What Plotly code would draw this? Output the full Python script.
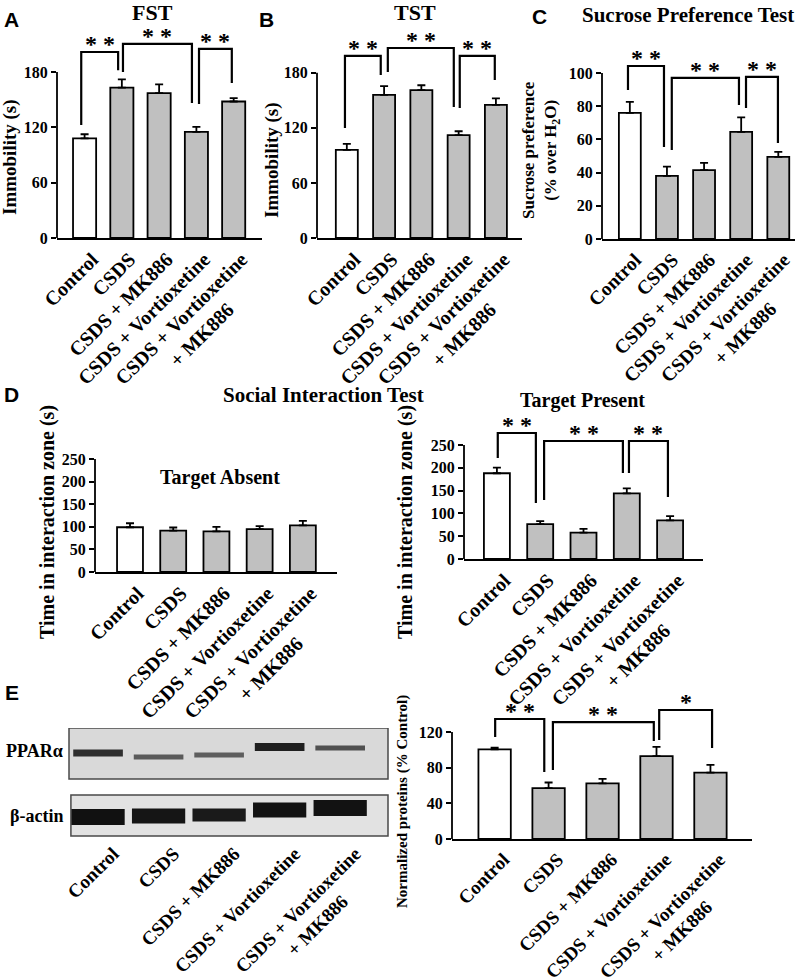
import plotly.graph_objects as go

W, H = 809, 978

# ---------------- data ----------------
categories = ["Control", "CSDS", "CSDS + MK886", "CSDS + Vortioxetine",
              "CSDS + Vortioxetine<br>+ MK886"]

fst_mean = [108, 163, 157, 115, 148]
fst_sem = [4.5, 9.0, 9.5, 5.5, 3.7]

tst_mean = [96, 156, 161, 112, 145]
tst_sem = [6.5, 9.4, 5.4, 4.3, 7.0]

spt_mean = [76, 38, 41.5, 64.5, 49.5]
spt_sem = [6.6, 5.6, 4.4, 8.8, 3.0]

absent_mean = [99, 91.5, 90, 95, 103]
absent_sem = [8.8, 7.0, 10.0, 6.6, 10.0]

present_mean = [188, 76.5, 58, 144, 84.5]
present_sem = [12.5, 6.5, 8.0, 11.0, 9.4]

ppar_mean = [100.5, 57, 62.5, 93, 74.5]
ppar_sem = [2.0, 6.4, 4.9, 10.4, 8.6]

# western blot band appearance
ppar_band_y = [83, 79, 81, 89, 88]
ppar_band_h = [7, 5, 5, 8, 5]
ppar_band_shade = ["#2e2e2e", "#5a5a5a", "#5e5e5e", "#1f1f1f", "#505050"]
actin_band_y = [19, 20, 21, 26, 28]
actin_band_h = [16, 15, 13, 15, 16]
actin_band_shade = ["#111111", "#151515", "#1a1a1a", "#121212", "#121212"]

SERIF = "Liberation Serif"
SANS = "Liberation Sans"
fills = ["white", "#c0c0c0", "#c0c0c0", "#c0c0c0", "#c0c0c0"]
idx = list(range(len(categories)))
ticktext = [c if "<br>" not in c else c.replace("<br>+ MK886", "<br>+ MK886" + "\u00a0" * 9)
            for c in categories]


def px_x(p):
    return p / W


def px_y(p):
    return 1 - p / H


fig = go.Figure()
layout = dict(width=W, height=H, margin=dict(l=0, r=0, t=0, b=0, autoexpand=False),
              paper_bgcolor="white", plot_bgcolor="white", showlegend=False,
              barmode="overlay", font=dict(family=SERIF, color="black"), template="none")
shapes = []
annotations = []

panels = [
    dict(n=1, mean=fst_mean, sem=fst_sem, xd=(57, 262), yb=238, yt=40, ymax=214.7,
         ticks=[0, 60, 120, 180], ytop=180, xr=(-0.74, 4.76), bw=0.62, lab_shift=0.21, fs=20),
    dict(n=2, mean=tst_mean, sem=tst_sem, xd=(317, 522), yb=238, yt=40, ymax=215.7,
         ticks=[0, 60, 120, 180], ytop=180, xr=(-0.8, 4.7), bw=0.59, lab_shift=0.21, fs=20),
    dict(n=3, mean=spt_mean, sem=spt_sem, xd=(602, 795), yb=239, yt=60, ymax=107.8,
         ticks=[0, 20, 40, 60, 80, 100], ytop=100, xr=(-0.75, 4.45), bw=0.59, lab_shift=0.15, fs=19.5),
    dict(n=4, mean=absent_mean, sem=absent_sem, xd=(95, 337), yb=572, yt=459, ymax=250,
         ticks=[0, 50, 100, 150, 200, 250], ytop=250, xr=(-0.81, 4.79), bw=0.6, lab_shift=0.18, fs=20),
    dict(n=5, mean=present_mean, sem=present_sem, xd=(464, 703), yb=559, yt=430, ymax=282.9,
         ticks=[0, 50, 100, 150, 200, 250], ytop=250, xr=(-0.76, 4.76), bw=0.6, lab_shift=0.18, fs=20),
    dict(n=7, mean=ppar_mean, sem=ppar_sem, xd=(452, 752), yb=839, yt=705, ymax=150.3,
         ticks=[0, 40, 80, 120], ytop=120, xr=(-0.79, 4.77), bw=0.6, lab_shift=0.17, fs=19),
]

# significance brackets: (x_left, y_left_end, x_right, y_right_end, y_top, label)
brackets = {
    1: [(-0.09, 122.5, 0.9, 182, 201.7, "* *"), (1.03, 180, 2.88, 146.4, 210.4, "* *"),
        (3.07, 145.3, 3.95, 168, 205, "* *")],
    2: [(-0.05, 119.8, 0.91, 177.6, 198.3, "* *"), (1.1, 180.8, 2.87, 142.7, 207, "* *"),
        (3.03, 141.6, 3.97, 172.1, 198.3, "* *")],
    3: [(-0.05, 89.8, 0.92, 55.4, 104.2, "* *"), (1.13, 53.6, 2.94, 80.7, 97, "* *"),
        (3.13, 78.9, 3.99, 57.8, 97.6, "* *")],
    5: [(0.02, 221.5, 0.9, 122.8, 276.3, "* *"), (1.09, 129.4, 2.91, 188.6, 258.8, "* *"),
        (3.05, 188.6, 3.95, 136, 258.8, "* *")],
    7: [(0.01, 114.4, 0.92, 75.1, 134.6, "* *"), (1.08, 77.4, 2.95, 109.9, 131.2, "* *"),
        (3.05, 111, 4.03, 102, 144.7, "*")],
}

for p in panels:
    n = p["n"]
    xa = "x" if n == 1 else f"x{n}"
    ya = "y" if n == 1 else f"y{n}"
    fig.add_trace(go.Bar(
        x=idx, y=p["mean"], width=p["bw"], xaxis=xa, yaxis=ya,
        marker=dict(color=fills, line=dict(color="black", width=1.8)),
        error_y=dict(type="data", array=p["sem"], arrayminus=[0] * 5, symmetric=False,
                     color="black", thickness=1.8, width=4),
        hoverinfo="skip"))
    layout[f"xaxis{'' if n == 1 else n}"] = dict(
        domain=[px_x(p["xd"][0]), px_x(p["xd"][1])], range=list(p["xr"]), anchor=ya,
        tickmode="array", tickvals=[i + p["lab_shift"] for i in idx], ticktext=ticktext,
        tickangle=-45, automargin=False, ticklabeloverflow="allow",
        showline=True, linecolor="black", linewidth=1.8, ticks="", showgrid=False,
        zeroline=False, tickfont=dict(family=SERIF, size=p["fs"], weight="bold", color="black"))
    layout[f"yaxis{'' if n == 1 else n}"] = dict(
        domain=[px_y(p["yb"]), px_y(p["yt"])], range=[0, p["ymax"]], anchor=xa,
        tickmode="array", tickvals=p["ticks"], showline=False, showgrid=False, automargin=False,
        zeroline=False, ticks="outside", ticklen=5, tickwidth=1.6, tickcolor="black",
        tickfont=dict(family=SERIF, size=16, weight="bold", color="black"))
    shapes.append(dict(type="line", xref=f"{xa} domain", yref=ya, x0=0, x1=0, y0=0,
                       y1=p["ytop"], line=dict(color="black", width=1.8)))
    for (xl, yl, xr, yr, top, lab) in brackets.get(n, []):
        fig.add_trace(go.Scatter(x=[xl, xl, xr, xr], y=[yl, top, top, yr], mode="lines",
                                 line=dict(color="black", width=2.2), xaxis=xa, yaxis=ya,
                                 hoverinfo="skip"))
        annotations.append(dict(x=(xl + xr) / 2, y=top, xref=xa, yref=ya, text=lab,
                                showarrow=False, yanchor="bottom", yshift=-7,
                                font=dict(family=SERIF, size=24, weight="bold")))

# ---------------- western blot ----------------
fig.add_trace(go.Bar(x=idx, y=ppar_band_h, base=[c - h / 2 for c, h in zip(ppar_band_y, ppar_band_h)],
                     width=0.82, marker=dict(color=ppar_band_shade, line=dict(width=0)),
                     xaxis="x6", yaxis="y6", hoverinfo="skip"))
fig.add_trace(go.Bar(x=idx, y=actin_band_h, base=[c - h / 2 for c, h in zip(actin_band_y, actin_band_h)],
                     width=0.88, marker=dict(color=actin_band_shade, line=dict(width=0)),
                     xaxis="x6", yaxis="y6", hoverinfo="skip"))
layout["xaxis6"] = dict(domain=[px_x(69), px_x(388)], range=[-0.48, 4.79], anchor="y6",
                        tickmode="array", tickvals=[i + 0.25 for i in idx], ticktext=ticktext,
                        tickangle=-45, showline=False, ticks="", showgrid=False, zeroline=False,
                        automargin=False, ticklabeloverflow="allow",
                        tickfont=dict(family=SERIF, size=19, weight="bold", color="black"))
layout["yaxis6"] = dict(domain=[px_y(838), px_y(728)], range=[-2, 108], anchor="x6",
                        visible=False, automargin=False)
shapes.append(dict(type="rect", xref="x6 domain", yref="y6", x0=0, x1=1, y0=57, y1=108,
                   fillcolor="#d9d9d9", line=dict(color="#4a4a4a", width=1.5), layer="below"))
shapes.append(dict(type="rect", xref="x6 domain", yref="y6", x0=0.006, x1=1, y0=0, y1=41,
                   fillcolor="#e2e2e2", line=dict(color="#4a4a4a", width=1.5), layer="below"))


def txt(x, y, s, size, family=SERIF, angle=0, xanchor="center", yanchor="middle"):
    annotations.append(dict(x=px_x(x), y=px_y(y), xref="paper", yref="paper", text=s,
                            showarrow=False, textangle=angle, xanchor=xanchor, yanchor=yanchor,
                            font=dict(family=family, size=size, weight="bold", color="black")))


# panel letters
txt(11, 20, "A", 21, SANS)
txt(266, 20, "B", 21, SANS)
txt(539, 16, "C", 21, SANS)
txt(11, 395, "D", 21, SANS)
txt(12, 692, "E", 21, SANS)

# titles
txt(152, 13, "FST", 22)
txt(415, 13, "TST", 22)
txt(688, 15, "Sucrose Preference Test", 21)
txt(323, 395, "Social Interaction Test", 21)
txt(220, 477, "Target Absent", 20)
txt(582, 400, "Target Present", 20)

# y-axis titles
txt(10, 157, "Immobility (s)", 19, angle=-90)
txt(272, 160, "Immobility (s)", 19, angle=-90)
txt(541, 150, "Sucrose preference<br>(% over H<sub>2</sub>O)", 17, angle=-90)
txt(47, 522, "Time in interaction zone (s)", 20, angle=-90)
txt(405, 522, "Time in interaction zone (s)", 20, angle=-90)
txt(402, 802, "Normalized proteins (% Control)", 15, angle=-90)

# blot labels
txt(65, 751, "PPARα", 18, xanchor="right")
txt(65, 816, "β-actin", 18, xanchor="right")

layout["shapes"] = shapes
layout["annotations"] = annotations
fig.update_layout(**layout)
fig.write_html("out.html", config={"displayModeBar": False},
               post_script="document.body.style.margin='0px';")
